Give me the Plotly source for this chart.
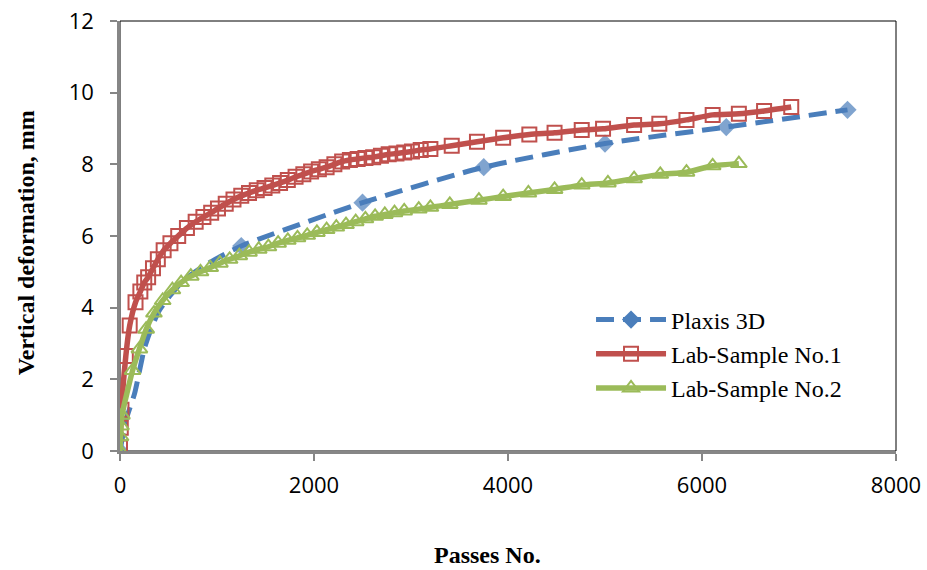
import plotly.graph_objects as go

# Plaxis 3D
plaxis_x = [0, 60, 150, 250, 320, 400, 520, 650, 800, 950, 1250, 2500, 3750, 5000, 6250, 7500]
plaxis_y = [0, 0.85, 1.6, 2.85, 3.4, 3.9, 4.35, 4.75, 5.05, 5.3, 5.72, 6.93, 7.92, 8.58, 9.04, 9.52]

# Lab-Sample No.1
lab1_x = [0, 8, 15, 60, 100, 160, 210, 250, 290, 340, 390, 450, 520, 600, 690, 780, 860, 940,
          1010, 1090, 1170, 1250, 1330, 1410, 1490, 1570, 1650, 1730, 1810, 1890, 1970, 2050,
          2130, 2210, 2290, 2370, 2450, 2530, 2610, 2690, 2770, 2850, 2930, 3010, 3100, 3200,
          3420, 3680, 3950, 4220, 4480, 4760, 4980, 5300, 5560, 5840, 6110, 6380, 6640, 6920]
lab1_y = [0.1, 0.65, 1.15, 2.65, 3.5, 4.15, 4.45, 4.7, 4.85, 5.1, 5.35, 5.6, 5.8, 6.0, 6.22, 6.4,
          6.53, 6.65, 6.77, 6.9, 7.02, 7.12, 7.2, 7.28, 7.34, 7.41, 7.48, 7.56, 7.65, 7.72, 7.8,
          7.86, 7.92, 8.0, 8.08, 8.12, 8.15, 8.18, 8.2, 8.24, 8.28, 8.3, 8.33, 8.36, 8.4, 8.43,
          8.52, 8.63, 8.74, 8.83, 8.88, 8.96, 8.99, 9.1, 9.13, 9.24, 9.38, 9.41, 9.49, 9.6]

# Lab-Sample No.2
lab2_x = [0, 5, 10, 20, 130, 200, 270, 350, 440, 540, 630, 730, 830, 930, 1030, 1130, 1230, 1330,
          1430, 1530, 1630, 1730, 1830, 1930, 2030, 2130, 2230, 2330, 2430, 2530, 2630, 2730,
          2830, 2930, 3080, 3200, 3400, 3700, 3950, 4210, 4480, 4760, 5030, 5300, 5570, 5840,
          6110, 6380]
lab2_y = [0, 0.4, 0.7, 1.0, 2.25, 2.85, 3.4, 3.85, 4.2, 4.5, 4.7, 4.88, 5.0, 5.12, 5.24, 5.35,
          5.45, 5.55, 5.63, 5.7, 5.8, 5.88, 5.95, 6.02, 6.1, 6.18, 6.25, 6.32, 6.4, 6.48, 6.55,
          6.6, 6.65, 6.7, 6.75, 6.8, 6.88, 7.0, 7.1, 7.2, 7.3, 7.42, 7.48, 7.6, 7.72, 7.78, 7.96,
          8.02]

x_ticks = [0, 2000, 4000, 6000, 8000]
y_ticks = [0, 2, 4, 6, 8, 10, 12]
series_names = ["Plaxis 3D", "Lab-Sample No.1", "Lab-Sample No.2"]

BLUE = "#4A7EBB"
RED = "#C0504D"
GREEN = "#9BBB59"
DASH = "18px,9px"

plaxis_sizes = [14 if v % 1250 == 0 else 0 for v in plaxis_x]

fig = go.Figure()
# Plaxis 3D: line through all points, diamonds at the modelled stages
fig.add_trace(go.Scatter(
    x=plaxis_x, y=plaxis_y, name=series_names[0], mode="lines+markers", showlegend=False,
    line=dict(color=BLUE, width=5, dash=DASH, shape="spline", smoothing=0.6),
    marker=dict(symbol="diamond", size=plaxis_sizes, color=BLUE, line=dict(width=0)),
))
# legend entry for Plaxis 3D
fig.add_trace(go.Scatter(
    x=[None], y=[None], name=series_names[0], mode="lines+markers",
    line=dict(color=BLUE, width=5, dash=DASH),
    marker=dict(symbol="diamond", size=14, color=BLUE, line=dict(width=0)),
))
fig.add_trace(go.Scatter(
    x=lab1_x, y=lab1_y, name=series_names[1], mode="lines+markers",
    line=dict(color=RED, width=5.5, shape="spline", smoothing=0.6),
    marker=dict(symbol="square-open", size=14, color=RED, line=dict(width=2, color=RED)),
))
fig.add_trace(go.Scatter(
    x=lab2_x, y=lab2_y, name=series_names[2], mode="lines+markers",
    line=dict(color=GREEN, width=5.5, shape="spline", smoothing=0.6),
    marker=dict(symbol="triangle-up-open", size=14, color=GREEN, line=dict(width=2, color=GREEN)),
))

tick_font = dict(family="Open Sans, Liberation Sans, sans-serif", size=22, color="#000000")
title_font = dict(family="Liberation Serif, Times New Roman, serif", size=24, color="#000000")

fig.update_layout(
    width=927, height=570,
    margin=dict(l=120, r=31, t=21, b=119, autoexpand=False),
    paper_bgcolor="white", plot_bgcolor="white",
    showlegend=True,
    legend=dict(
        x=0.607, y=0.357, xanchor="left", yanchor="top",
        font=dict(family="Liberation Serif, Times New Roman, serif", size=24, color="#000000"),
        itemwidth=70, bgcolor="rgba(0,0,0,0)",
    ),
    xaxis=dict(
        range=[0, 8000], tickvals=x_ticks, ticktext=[str(v) for v in x_ticks],
        showgrid=False, zeroline=False, showline=True, linecolor="#868686", linewidth=2.5,
        ticks="outside", ticklen=7, tickwidth=2, tickcolor="#868686", tickfont=tick_font,
        automargin=False, ticklabelstandoff=6, ticklabeloverflow="allow",
    ),
    yaxis=dict(
        range=[0, 12], tickvals=y_ticks, ticktext=[str(v) for v in y_ticks],
        showgrid=False, zeroline=False, showline=True, linecolor="#868686", linewidth=2.5,
        ticks="outside", ticklen=7, tickwidth=2, tickcolor="#868686", tickfont=tick_font,
        automargin=False, ticklabelstandoff=12, ticklabeloverflow="allow",
    ),
    shapes=[dict(type="rect", xref="paper", yref="paper", x0=0, y0=0, x1=1, y1=1,
                 line=dict(color="#000000", width=1), layer="below")],
    annotations=[
        dict(text="<b>Passes No.</b>", xref="paper", yref="paper", x=0.473, y=-0.242,
             xanchor="center", yanchor="middle", showarrow=False, font=title_font),
        dict(text="<b>Vertical deformation, mm</b>", xref="paper", yref="paper", x=-0.12, y=0.485,
             xanchor="center", yanchor="middle", showarrow=False, textangle=-90, font=title_font),
    ],
)

# remove the page's default body margin so the figure sits at the window origin
fig.write_html("out.html", config={"displayModeBar": False},
               post_script="document.body.style.margin='0px';")
